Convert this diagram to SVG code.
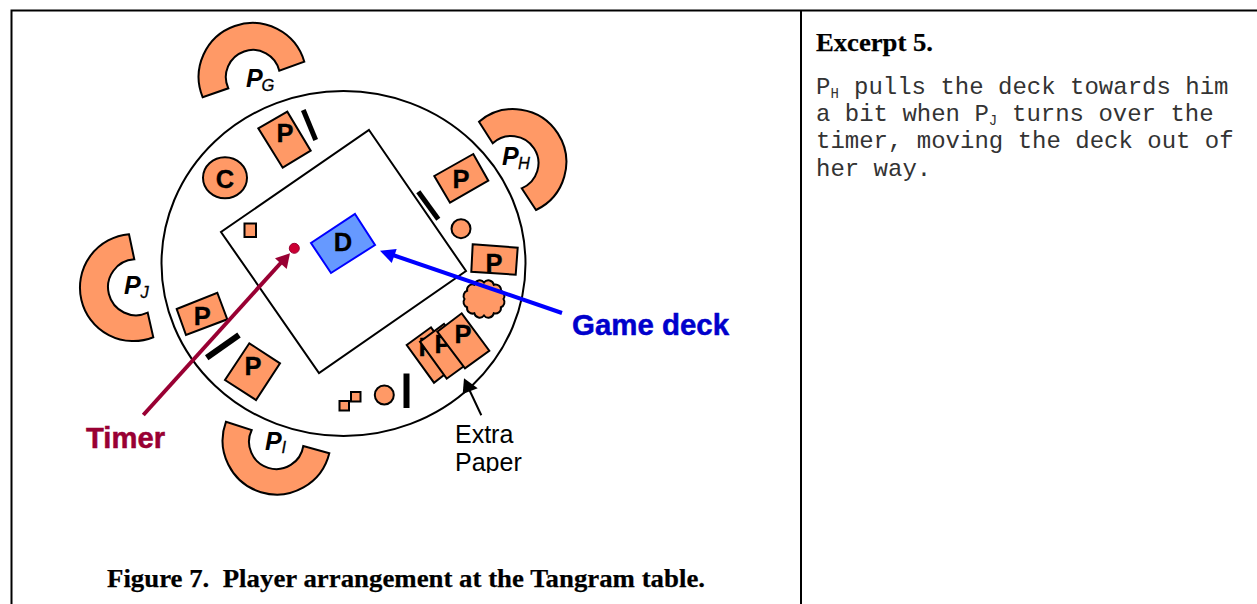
<svg xmlns="http://www.w3.org/2000/svg" width="1257" height="604" viewBox="0 0 1257 604">
<defs>
<style>
.o{fill:#ff9966;stroke:#000;stroke-width:2}
.b{fill:none;stroke:#000;stroke-linecap:butt}
.l{font:bold 25.5px "Liberation Sans",Arial,sans-serif;text-anchor:middle;fill:#000;stroke:#000;stroke-width:.3}
.pn{font:italic bold 25px "Liberation Sans",Arial,sans-serif;fill:#000}
.ps{font:italic 16.5px "Liberation Sans",Arial,sans-serif;fill:#000;stroke:#000;stroke-width:.3}
.m{font:24px "Liberation Mono","Courier New",monospace;fill:#333}
.ms{font-size:14px}
.h{font-family:"Liberation Serif","Times New Roman",serif;font-weight:bold;fill:#000;stroke:#000;stroke-width:.25}
.t{font-family:"Liberation Sans",Arial,sans-serif;fill:#000}
</style>
<clipPath id="pc"><rect x="440" y="400" width="100" height="73"/></clipPath>
</defs>
<rect width="1257" height="604" fill="#fff"/>
<g id="frame" fill="none" stroke="#000" stroke-width="2">
<path d="M11.5 604V10.5H1257"/>
<path d="M801 10.5V604"/>
</g>
<g id="table">
<ellipse cx="343.5" cy="263.5" rx="182" ry="172.5" fill="none" stroke="#000" stroke-width="2"/>
<polygon points="369,130 466,271 319,373 221,232" fill="none" stroke="#000" stroke-width="2"/>
</g>
<g id="player-g">
<path class="o" d="M202.7 97.3A53.9 53.9 0 1 1 304.3 61.7L279.3 70.7A27.1 27.1 0 1 0 228.3 88.3Z"/>
<text class="pn" x="246" y="87">P</text><text class="ps" x="261.5" y="91">G</text>
</g>
<g id="player-h">
<path class="o" d="M479 121.7A53 53 0 1 1 536 210L521.7 188.3A27.2 27.2 0 1 0 492.7 143.3Z"/>
<text class="pn" x="502" y="165">P</text><text class="ps" x="518" y="169">H</text>
</g>
<g id="player-j">
<path class="o" d="M153.3 337.3A53.5 53.5 0 1 1 129 234.3L134.3 259.3A28 28 0 1 0 147.7 312.7Z"/>
<text class="pn" x="124" y="294">P</text><text class="ps" x="140.5" y="298">J</text>
</g>
<g id="player-i">
<path class="o" d="M329.3 453.3A54.1 54.1 0 1 1 226 421.7L251.7 430A27.3 27.3 0 1 0 303.3 446Z"/>
<text class="pn" x="265" y="450">P</text><text class="ps" x="281.5" y="453">I</text>
</g>
<g id="card-g">
<polygon class="o" points="258.3,128.3 287.3,111.7 310.7,150.7 282.7,167.7"/>
<text class="l" x="285" y="142">P</text>
<path class="b" d="M303.3 110L315.7 140" stroke-width="5"/>
</g>
<g id="counter-c">
<ellipse class="o" cx="225" cy="177.7" rx="22" ry="20.5"/>
<text class="l" x="225" y="188">C</text>
</g>
<g id="square-1"><rect class="o" x="244.5" y="223.5" width="11.5" height="13.5"/></g>
<g id="deck">
<polygon points="355,214 375,245 331,273 311,243" fill="#6699ff" stroke="#0000ff" stroke-width="2"/>
<text class="l" x="343" y="251">D</text>
</g>
<g id="card-h">
<polygon class="o" points="434.3,176 473.3,154 488.3,180.7 450,202.7"/>
<text class="l" x="461" y="188">P</text>
<path class="b" d="M418.3 191.7L438.3 219.3" stroke-width="5"/>
<circle class="o" cx="461" cy="228.7" r="9.5"/>
</g>
<g id="card-h2">
<polygon class="o" points="472.7,244.3 517.7,247.7 515.7,274.7 471.3,271.7"/>
<text class="l" x="494" y="272">P</text>
</g>
<g id="cloud">
<path class="o" d="M503.5 299A5.5 5.5 0 0 1 500.9 307.3A5.5 5.5 0 0 1 493.8 313.3A5.5 5.5 0 0 1 484 315.5A5.5 5.5 0 0 1 474.3 313.3A5.5 5.5 0 0 1 467.1 307.3A5.5 5.5 0 0 1 464.5 299A5.5 5.5 0 0 1 467.1 290.8A5.5 5.5 0 0 1 474.3 284.7A5.5 5.5 0 0 1 484 282.5A5.5 5.5 0 0 1 493.8 284.7A5.5 5.5 0 0 1 500.9 290.8A5.5 5.5 0 0 1 503.5 299Z"/>
</g>
<g id="card-i-stack">
<polygon class="o" points="406.7,345 431,327.3 458,364 434,382.7"/>
<text class="l" x="427" y="356">P</text>
<polygon class="o" points="420,341.7 444,324 471,361 446.7,378.7"/>
<text class="l" x="443" y="353">P</text>
<polygon class="o" points="437.3,331.7 461.7,313.3 489.3,350.7 465,368.3"/>
<text class="l" x="463" y="343">P</text>
</g>
<g id="bottom-items">
<rect class="o" x="339.5" y="401" width="9.5" height="9.5"/>
<rect class="o" x="351" y="392" width="9.5" height="9.5"/>
<circle class="o" cx="384.3" cy="395" r="9.5"/>
<path class="b" d="M406.5 373.5V408" stroke-width="6"/>
</g>
<g id="card-j">
<polygon class="o" points="176.7,309 217.3,292.7 227.3,319.3 186,335"/>
<text class="l" x="202.3" y="325">P</text>
<path class="b" d="M206.7 357.7L239 335" stroke-width="6"/>
</g>
<g id="card-i">
<polygon class="o" points="249.3,343.3 280,363.3 256,400 225,380"/>
<text class="l" x="253" y="375">P</text>
</g>
<g id="timer-dot"><circle cx="294.3" cy="248.3" r="5" fill="#cc0033" stroke="#990033" stroke-width="1"/></g>
<g id="connectors">
<path d="M143.3 415L283 260.5" stroke="#990033" stroke-width="4" fill="none"/>
<polygon points="290,253.3 275,258.3 286.7,269" fill="#990033"/>
<path d="M562 313L390 254" stroke="#0000ff" stroke-width="4" fill="none"/>
<polygon points="380,250.7 396.7,249 391.7,263" fill="#0000ff"/>
<path d="M481.3 415.3L468 387" stroke="#000" stroke-width="2" fill="none"/>
<polygon points="464,378.3 462.7,394 477.7,388.3" fill="#000"/>
</g>
<g id="labels">
<text class="t" x="86" y="448" font-size="29" font-weight="bold" style="fill:#990033;stroke:#990033;stroke-width:.5" textLength="79" lengthAdjust="spacingAndGlyphs">Timer</text>
<text class="t" x="572" y="335" font-size="30" font-weight="bold" style="fill:#0000cc;stroke:#0000cc;stroke-width:.5" textLength="157" lengthAdjust="spacingAndGlyphs">Game deck</text>
<text class="t" x="455" y="443" font-size="25">Extra</text>
<text class="t" x="455" y="471" font-size="25" clip-path="url(#pc)">Paper</text>
<text class="h" x="107" y="587" font-size="26" textLength="598" lengthAdjust="spacingAndGlyphs" xml:space="preserve">Figure 7.  Player arrangement at the Tangram table.</text>
</g>
<g id="excerpt">
<text class="h" x="816" y="51" font-size="26" textLength="117" lengthAdjust="spacingAndGlyphs">Excerpt 5.</text>
<text class="m" x="816" y="94">P<tspan class="ms" dy="4">H</tspan><tspan dy="-4" x="854">pulls the deck towards him</tspan></text>
<text class="m" x="816" y="121">a bit when P<tspan class="ms" dy="4">J</tspan><tspan dy="-4" x="1012">turns over the</tspan></text>
<text class="m" x="816" y="148.3">timer, moving the deck out of</text>
<text class="m" x="816" y="175.6">her way.</text>
</g>
</svg>
